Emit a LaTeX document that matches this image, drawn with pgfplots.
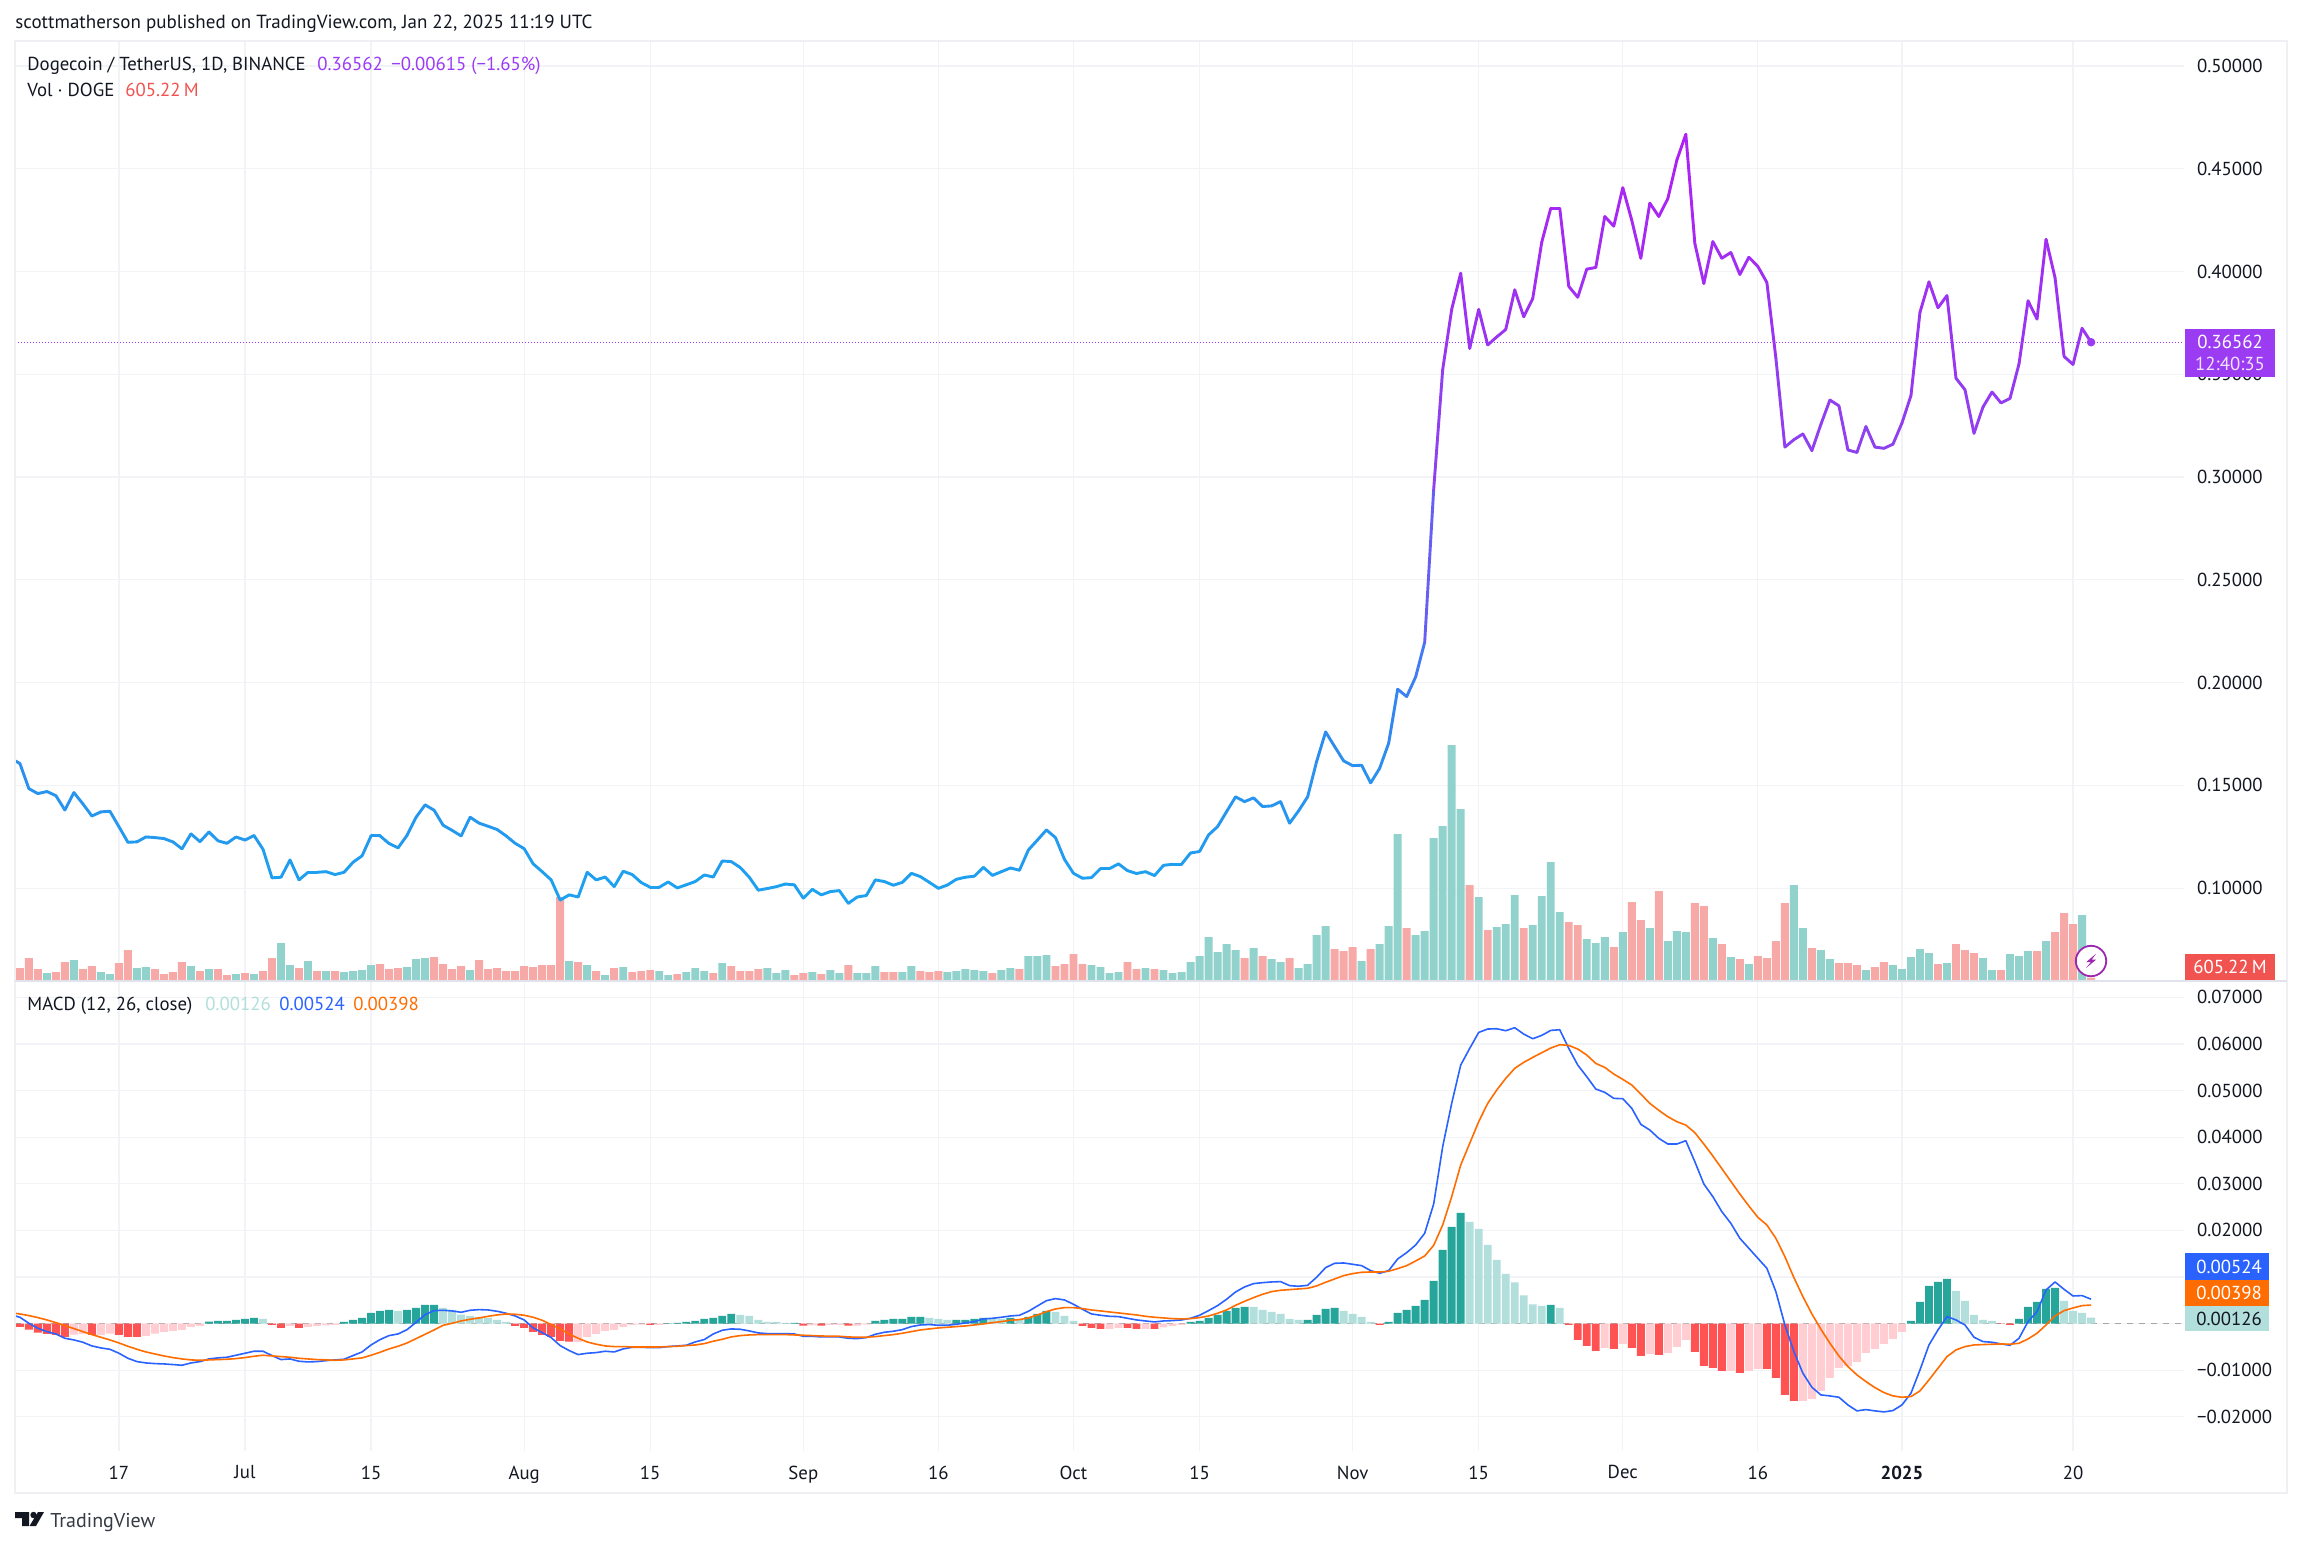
\documentclass[border=0pt]{standalone}
\usepackage{fontspec}
\setmainfont{PT Sans}
\usepackage{pgfplots}
\usepackage{pgfplotstable}
\pgfplotsset{compat=1.18}
\definecolor{gridc}{HTML}{F2F3F6}
\definecolor{framec}{HTML}{E0E3EB}
\definecolor{ink}{HTML}{131722}
\definecolor{purp}{HTML}{9C3AF5}
\definecolor{volg}{HTML}{92D2CC}
\definecolor{volr}{HTML}{F7A9A7}
\definecolor{hd}{HTML}{26A69A}
\definecolor{hl}{HTML}{B2DFDB}
\definecolor{hr}{HTML}{FF5252}
\definecolor{hp}{HTML}{FFCDD2}
\definecolor{mblue}{HTML}{2962FF}
\definecolor{morange}{HTML}{FF6D00}
\definecolor{tagred}{HTML}{F05350}
\definecolor{tagp}{HTML}{9B3BF2}
\definecolor{ring}{HTML}{9C27B0}
% t = days since 17 Jun 2024; p = close; v = volume (bar height, 1 unit = about 263 M);
% vc: 1 up, 0 down; h, m, s = MACD histogram, line, signal in thousandths; hc: 1-4 colour class
\pgfplotstableread{
t p v vc h hc m s
-12 .1630 0 1 0 1 1.93 2.36
-11 .1607 12 0 -.72 3 1.36 2.07
-10 .1484 22 0 -1.29 3 .07 1.72
-9 .1460 11 0 -1.93 3 -1.00 1.29
-8 .1470 7 1 -2.22 3 -1.72 .79
-7 .1450 8 0 -2.43 3 -2.22 .21
-6 .1380 18 0 -2.86 3 -3.15 -.43
-5 .1465 20 1 -2.36 4 -3.50 -1.07
-4 .1410 11 0 -2.22 4 -4.00 -1.72
-3 .1351 14 0 -2.43 3 -4.79 -2.36
-2 .1371 8 1 -2.43 4 -5.22 -2.93
-1 .1374 6 1 -2.15 4 -5.51 -3.50
0 .1299 17 0 -2.43 3 -6.36 -4.15
1 .1223 30 0 -2.86 3 -7.44 -4.86
2 .1225 12 1 -2.86 3 -8.15 -5.51
3 .1249 13 1 -2.65 4 -8.44 -6.08
4 .1246 11 0 -2.15 4 -8.58 -6.51
5 .1241 6 0 -1.79 4 -8.65 -6.94
6 .1225 8 0 -1.57 4 -8.79 -7.29
7 .1191 18 0 -1.36 4 -8.94 -7.58
8 .1264 14 1 -.72 4 -8.44 -7.79
9 .1226 9 0 -.50 4 -8.15 -7.87
10 .1273 11 1 .43 1 -7.58 -7.79
11 .1230 11 0 .57 1 -7.36 -7.72
12 .1218 5 0 .57 1 -7.22 -7.65
13 .1249 6 1 .79 1 -6.79 -7.51
14 .1234 7 0 1.00 1 -6.36 -7.29
15 .1256 6 1 1.22 1 -5.93 -7.01
16 .1189 9 0 1.00 2 -5.93 -6.79
17 .1050 22 0 -.29 3 -6.86 -6.94
18 .1053 37 1 -.93 3 -7.72 -7.08
19 .1137 15 1 -.50 4 -7.58 -7.22
20 .1040 12 0 -.93 3 -8.08 -7.44
21 .1077 19 1 -.72 4 -8.22 -7.58
22 .1077 9 0 -.50 4 -8.15 -7.72
23 .1080 9 1 -.36 4 -7.94 -7.79
24 .1066 9 0 -.29 4 -7.79 -7.87
25 .1077 8 1 .36 1 -7.65 -7.79
26 .1126 9 1 .79 1 -6.86 -7.58
27 .1157 10 1 1.22 1 -6.08 -7.36
28 .1254 15 1 2.29 1 -4.58 -6.79
29 .1254 16 0 2.72 1 -3.43 -6.15
30 .1217 11 0 2.93 1 -2.57 -5.43
31 .1196 12 0 2.72 2 -2.22 -4.86
32 .1257 13 1 2.93 1 -1.29 -4.15
33 .1345 21 1 3.36 1 .29 -3.22
34 .1405 22 1 4.00 1 1.93 -2.29
35 .1379 23 0 4.00 1 2.79 -1.36
36 .1306 16 0 3.36 2 2.86 -.36
37 .1281 11 0 2.93 2 2.72 .07
38 .1254 14 0 1.93 2 2.43 .57
39 .1345 10 1 1.64 2 2.86 .93
40 .1316 20 0 1.43 2 3.00 1.22
41 .1301 11 0 1.22 2 2.93 1.57
42 .1285 12 0 .79 2 2.65 1.86
43 .1254 9 0 .36 2 2.22 2.07
44 .1218 9 0 -.50 3 1.64 2.00
45 .1192 14 0 -.93 3 .79 1.79
46 .1118 13 0 -1.79 3 -.93 1.36
47 .1080 15 0 -2.43 3 -1.93 .72
48 .1040 15 0 -2.86 3 -3.00 -.21
49 .0942 83 0 -3.72 3 -4.72 -1.14
50 .0967 19 1 -3.86 3 -5.79 -2.22
51 .0957 18 0 -3.93 4 -6.65 -3.15
52 .1077 15 1 -2.86 4 -6.36 -3.93
53 .1040 9 0 -2.22 4 -6.22 -4.43
54 .1054 5 1 -1.57 4 -5.93 -4.79
55 .1007 12 0 -1.36 4 -6.08 -4.93
56 .1082 13 1 -.72 4 -5.43 -4.93
57 .1066 8 0 -.29 4 -5.08 -5.01
58 .1027 9 0 -.21 4 -5.08 -5.01
59 .1004 10 0 -.29 3 -5.15 -5.01
60 .1004 9 1 -.29 4 -5.15 -5.01
61 .1030 5 1 .07 1 -4.93 -4.93
62 .1001 6 0 .14 1 -4.79 -4.86
63 .1016 8 1 .36 1 -4.65 -4.72
64 .1032 12 1 .57 1 -3.93 -4.58
65 .1064 9 1 1.00 1 -3.43 -4.29
66 .1054 7 0 1.22 1 -2.22 -3.79
67 .1132 17 1 1.64 1 -1.43 -3.36
68 .1129 14 0 2.07 1 -1.14 -2.86
69 .1100 9 0 1.86 2 -1.22 -2.57
70 .1053 9 0 1.64 2 -1.57 -2.43
71 .0990 11 0 .79 2 -2.00 -2.36
72 .0998 12 1 .36 2 -2.15 -2.36
73 .1007 7 1 .36 2 -2.15 -2.36
74 .1020 10 1 .14 2 -2.15 -2.36
75 .1016 5 0 .14 1 -2.22 -2.43
76 .0951 7 0 -.43 3 -2.72 -2.50
77 .0994 8 1 -.36 4 -2.72 -2.57
78 .0967 6 0 -.43 3 -2.86 -2.65
79 .0983 10 1 -.29 4 -2.86 -2.72
80 .0988 7 1 -.29 4 -2.86 -2.72
81 .0926 15 0 -.43 3 -3.15 -2.86
82 .0957 7 1 -.43 4 -3.22 -2.93
83 .0964 7 1 -.21 4 -3.00 -2.93
84 .1040 14 1 .57 1 -2.29 -2.79
85 .1032 8 0 .79 1 -1.86 -2.57
86 .1014 8 0 1.00 1 -1.64 -2.36
87 .1028 8 1 1.00 1 -1.29 -2.07
88 .1072 14 1 1.43 1 -.64 -1.72
89 .1056 9 0 1.43 1 -.29 -1.36
90 .1028 8 0 1.22 2 -.21 -1.14
91 .0999 9 0 1.00 2 -.36 -.93
92 .1015 8 1 .79 2 -.36 -.79
93 .1043 9 1 .79 1 -.14 -.64
94 .1053 11 1 .79 1 .14 -.50
95 .1058 10 1 1.00 1 .43 -.29
96 .1101 9 1 1.22 1 1.00 -.07
97 .1062 7 0 1.00 2 1.14 .21
98 .1080 10 1 1.00 2 1.36 .43
99 .1098 12 1 1.22 1 1.64 .72
100 .1087 11 0 1.00 2 1.79 .86
101 .1186 24 1 1.43 1 2.65 1.22
102 .1234 24 1 2.07 1 3.79 1.86
103 .1283 25 1 2.72 1 4.93 2.57
104 .1246 14 0 2.50 2 5.36 3.15
105 .1140 16 0 1.64 2 5.08 3.43
106 .1072 26 0 .57 2 4.15 3.43
107 .1048 16 0 -.50 3 3.07 3.22
108 .1051 15 1 -.93 3 2.07 2.93
109 .1095 13 1 -1.14 3 1.79 2.72
110 .1095 7 1 -1.14 4 1.57 2.50
111 .1118 8 1 -.93 4 1.50 2.29
112 .1085 18 0 -.93 3 1.14 2.07
113 .1071 11 0 -1.14 3 .79 1.86
114 .1080 12 1 -1.14 4 .57 1.57
115 .1061 11 0 -1.14 3 .36 1.36
116 .1111 10 1 -.79 4 .57 1.22
117 .1116 7 1 -.50 4 .64 1.07
118 .1116 8 1 -.29 4 .79 1.00
119 .1171 18 1 .36 1 1.14 1.07
120 .1178 24 1 .57 1 1.79 1.29
121 .1259 43 1 1.22 1 2.79 1.64
122 .1299 28 1 1.86 1 3.86 2.22
123 .1372 36 1 2.72 1 5.22 2.93
124 .1444 30 1 3.36 1 6.79 3.93
125 .1421 22 0 3.58 1 7.87 4.79
126 .1439 32 1 3.58 2 8.58 5.58
127 .1397 24 0 2.93 2 8.79 6.29
128 .1400 21 1 2.50 2 8.94 6.86
129 .1421 18 1 2.07 2 9.01 7.15
130 .1316 22 0 1.00 2 8.15 7.29
131 .1376 12 1 .79 2 8.01 7.44
132 .1444 16 1 .79 1 8.22 7.58
133 .1616 45 1 1.86 1 9.94 8.08
134 .1760 54 1 3.15 1 12.01 8.87
135 .1689 31 0 3.36 1 12.94 9.58
136 .1619 29 0 2.72 2 13.01 10.30
137 .1596 33 0 2.07 2 12.73 10.73
138 .1598 19 1 1.43 2 12.44 11.01
139 .1512 31 0 .36 2 11.37 11.08
140 .1583 36 1 -.29 3 10.80 11.08
141 .1705 54 1 .36 1 11.37 11.23
142 .1968 146 1 2.29 1 13.87 11.80
143 .1932 52 0 2.93 1 15.23 12.44
144 .2028 45 1 3.79 1 16.87 13.44
145 .2196 49 1 5.08 1 19.38 14.51
146 .2940 142 1 9.15 1 25.67 16.80
147 .3523 154 1 15.80 1 37.97 21.16
148 .3816 235 1 20.74 1 47.26 27.24
149 .3992 171 1 23.74 1 55.48 34.03
150 .3626 95 0 21.81 2 59.06 38.68
151 .3816 83 1 20.31 2 62.49 43.33
152 .3643 50 0 16.87 2 63.21 47.26
153 .3682 53 1 13.66 2 63.28 50.12
154 .3718 56 1 10.65 2 62.85 52.62
155 .3911 85 1 8.87 2 63.49 54.77
156 .3780 52 0 6.08 2 62.13 56.06
157 .3869 55 1 4.15 2 61.13 57.13
158 .4143 84 1 3.79 2 61.85 58.13
159 .4308 118 1 4.00 1 62.92 59.13
160 .4308 68 1 3.36 2 63.06 59.85
161 .3928 58 0 -.29 3 59.06 59.70
162 .3875 55 0 -3.50 3 55.48 58.92
163 .4012 41 1 -4.79 3 52.98 57.63
164 .4020 37 1 -5.86 3 50.34 55.84
165 .4268 43 1 -5.22 4 49.62 54.98
166 .4221 33 0 -5.43 3 48.33 53.55
167 .4408 48 1 -4.36 4 48.26 52.41
168 .4249 78 0 -5.22 3 46.19 51.19
169 .4065 60 0 -6.94 3 42.76 49.26
170 .4333 52 1 -6.51 4 41.54 47.26
171 .4268 89 0 -6.72 3 39.75 45.76
172 .4355 39 1 -6.29 4 38.54 44.40
173 .4542 49 1 -5.01 4 38.54 43.33
174 .4668 48 1 -3.50 4 39.25 42.61
175 .4137 77 0 -6.08 3 34.75 40.97
176 .3942 74 0 -9.08 3 29.96 38.54
177 .4146 42 1 -9.51 3 27.24 35.96
178 .4065 36 0 -10.15 3 24.02 33.25
179 .4093 23 1 -10.15 4 21.52 30.53
180 .3986 21 0 -10.58 3 18.30 27.81
181 .4070 16 1 -10.15 4 16.16 25.24
182 .4025 24 0 -9.72 4 14.01 22.81
183 .3947 22 0 -9.72 3 11.87 21.16
184 .3579 39 0 -11.65 3 6.86 18.30
185 .3146 77 0 -15.30 3 -.29 14.37
186 .3182 95 1 -16.59 3 -6.01 9.87
187 .3210 52 1 -16.59 4 -10.65 5.79
188 .3129 32 0 -16.16 4 -13.66 2.07
189 .3257 30 1 -14.44 4 -15.30 -1.22
190 .3375 21 1 -11.65 4 -15.52 -4.22
191 .3347 17 0 -9.51 4 -15.80 -6.94
192 .3132 17 0 -9.08 4 -17.45 -9.22
193 .3120 15 0 -8.22 4 -18.73 -11.01
194 .3246 10 1 -6.29 4 -18.45 -12.44
195 .3146 13 0 -5.43 4 -18.73 -13.73
196 .3140 18 0 -4.36 4 -18.95 -14.80
197 .3160 15 1 -3.29 4 -18.66 -15.52
198 .3263 11 1 -1.79 4 -17.45 -15.80
199 .3397 23 1 .57 1 -14.94 -15.66
200 .3802 31 1 4.65 1 -9.94 -14.44
201 .3950 27 1 8.08 1 -4.58 -12.08
202 .3824 16 0 8.94 1 -1.36 -9.58
203 .3883 17 1 9.58 1 1.50 -7.08
204 .3481 36 0 7.01 2 .79 -5.65
205 .3425 30 0 4.86 2 -.29 -4.93
206 .3213 27 0 1.86 2 -2.93 -4.58
207 .3341 22 1 .79 2 -3.86 -4.50
208 .3414 10 1 .57 2 -4.00 -4.43
209 .3361 10 0 -.07 3 -4.36 -4.36
210 .3383 26 1 -.29 3 -4.65 -4.43
211 .3551 24 1 1.00 1 -3.15 -4.22
212 .3858 29 1 3.58 1 .43 -3.29
213 .3769 29 0 4.65 1 2.57 -2.07
214 .4157 39 1 7.44 1 7.22 -.29
215 .3970 48 0 7.65 1 8.94 1.64
216 .3587 67 0 4.86 2 7.36 2.79
217 .3548 56 0 2.72 2 5.93 3.36
218 .3724 65 1 2.29 2 6.01 3.86
219 .36562 2.3 0 1.26 2 5.24 3.98
}\data
\def\tf{\fontsize{9.4pt}{11pt}\selectfont}
\def\tn{\fontsize{9.4pt}{11pt}\selectfont}
\newcommand{\txt}[4][ink]{\node[anchor=base west,inner sep=0pt,text=#1,font=\tf] at (#2,#3) {#4};}
\pgfplotsset{
  common/.style={scale only axis, width=1084.5pt, xmin=-11.54, xmax=229.32, clip=true},
  xgridticks/.style={xtick={0,14,28,45,59,76,91,106,120,137,151,167,182,198,217}},
}
\begin{document}
\begin{tikzpicture}[font=\tf]
\begin{scope}[x=0.5pt,y=-0.5pt]
\path[use as bounding box] (0,0) rectangle (2301,1546);
\fill[white] (0,0) rectangle (2301,1546);
\end{scope}
% price pane: grid and tick labels
\begin{axis}[common, xgridticks, at={(7.5pt,-490.5pt)}, anchor=south west, height=470pt,
  ymin=0.0548, ymax=0.5122,
  axis line style={draw=none}, major tick length=0pt,
  xticklabels={}, xmajorgrids, ymajorgrids, grid style={gridc,line width=0.6pt},
  ytick={0.10,0.15,0.20,0.25,0.30,0.35,0.40,0.45,0.50},
  yticklabels={0.10000,0.15000,0.20000,0.25000,0.30000,0.35000,0.40000,0.45000,0.50000},
  yticklabel pos=right, yticklabel style={anchor=west,xshift=3pt,text=ink,font=\tn}]
\addplot[purp,line width=0.5pt,densely dotted] coordinates {(-11.54,0.36562) (229.32,0.36562)};
\end{axis}
% volume
\begin{axis}[common, at={(7.5pt,-490pt)}, anchor=south west, height=469.5pt, ymin=0, ymax=939, hide axis]
\addplot[ybar, bar shift=0pt, bar width=0.88, fill=volg, draw=none] table[x=t,y=v,restrict expr to domain={\thisrow{vc}}{1:1}] {\data};
\addplot[ybar, bar shift=0pt, bar width=0.88, fill=volr, draw=none] table[x=t,y=v,restrict expr to domain={\thisrow{vc}}{0:0}] {\data};
\end{axis}
% price line
\begin{axis}[common, at={(7.5pt,-490.5pt)}, anchor=south west, height=470pt, ymin=0.0548, ymax=0.5122, hide axis,
  colormap={doge}{rgb255(0cm)=(29,161,240); rgb255(8cm)=(48,138,238); rgb255(12cm)=(74,117,245); rgb255(20cm)=(138,69,240); rgb255(37cm)=(178,30,245)},
  point meta min=0.10, point meta max=0.47]
\addplot[mesh, point meta=y, line width=1.45pt, line cap=round, line join=round] table[x=t,y=p] {\data};
\addplot[only marks, color=purp, mark=*, mark size=1.9pt, mark options={fill=purp, draw=purp}] coordinates {(219,0.36562)};
\end{axis}
% MACD pane
\begin{axis}[common, xgridticks, at={(7.5pt,-725.5pt)}, anchor=south west, height=235pt,
  ymin=-27.34, ymax=73.52,
  axis line style={draw=none}, major tick length=0pt,
  xticklabels={17,Jul,15,Aug,15,Sep,16,Oct,15,Nov,15,Dec,16,\textbf{2025},20},
  xticklabel style={text=ink,font=\tn,yshift=-3.8pt},
  xmajorgrids, ymajorgrids, grid style={gridc,line width=0.6pt},
  ytick={-20,-10,0,10,20,30,40,50,60,70},
  yticklabels={−0.02000,−0.01000,0.00000,0.01000,0.02000,0.03000,0.04000,0.05000,0.06000,0.07000},
  yticklabel pos=right, yticklabel style={anchor=west,xshift=3pt,text=ink,font=\tn}]
\addplot[gray!70,line width=0.5pt,dashed] coordinates {(-11.54,0) (229.32,0)};
\addplot[ybar, bar shift=0pt, bar width=0.88, fill=hd, draw=none] table[x=t,y=h,restrict expr to domain={\thisrow{hc}}{1:1}] {\data};
\addplot[ybar, bar shift=0pt, bar width=0.88, fill=hl, draw=none] table[x=t,y=h,restrict expr to domain={\thisrow{hc}}{2:2}] {\data};
\addplot[ybar, bar shift=0pt, bar width=0.88, fill=hr, draw=none] table[x=t,y=h,restrict expr to domain={\thisrow{hc}}{3:3}] {\data};
\addplot[ybar, bar shift=0pt, bar width=0.88, fill=hp, draw=none] table[x=t,y=h,restrict expr to domain={\thisrow{hc}}{4:4}] {\data};
\addplot[mblue,line width=0.8pt,line join=round] table[x=t,y=m] {\data};
\addplot[morange,line width=0.8pt,line join=round] table[x=t,y=s] {\data};
\end{axis}
\begin{scope}[x=0.5pt,y=-0.5pt]
% frame and separators
\draw[gridc!80!framec,line width=1.2pt] (15,41) rectangle (2287,1493);
\draw[framec,line width=0.9pt] (15,981) -- (2287,981);
% header and legends
\node[anchor=base west,inner sep=0pt,text=ink,font=\fontsize{9.5pt}{11pt}\selectfont] at (15,29) {scottmatherson published on TradingView.com, Jan 22, 2025 11:19 UTC};
\txt{27}{70.5}{Dogecoin / TetherUS, 1D, BINANCE}
\txt[purp]{317}{70.5}{0.36562}
\txt[purp]{391}{70.5}{−0.00615 (−1.65\%)}
\txt{27}{96.5}{Vol · DOGE}
\txt[tagred]{125}{96.5}{605.22\,M}
\txt{27}{1010}{MACD (12, 26, close)}
\txt[hl]{205}{1010}{0.00126}
\txt[mblue]{279}{1010}{0.00524}
\txt[morange]{353}{1010}{0.00398}
% tags
\fill[tagp] (2185,328.5) rectangle (2275,377);
\node[text=white,font=\tn,inner sep=0pt] at (2230,342) {0.36562};
\node[text=white!85!tagp,font=\tn,inner sep=0pt] at (2230,364) {12:40:35};
\fill[tagred] (2185,954) rectangle (2275,980);
\node[text=white,font=\tn,inner sep=0pt] at (2230,967) {605.22\,M};
\fill[mblue] (2185,1253) rectangle (2269,1279.5);
\node[text=white,font=\tn,inner sep=0pt] at (2229,1266.5) {0.00524};
\fill[morange] (2185,1279.5) rectangle (2269,1306);
\node[text=white,font=\tn,inner sep=0pt] at (2229,1293) {0.00398};
\fill[hl] (2185,1306) rectangle (2269,1331);
\node[text=ink,font=\tn,inner sep=0pt] at (2229,1318.5) {0.00126};
% bolt badge
\draw[fill=white,draw=ring,line width=0.9pt] (2091,961) circle (7.6pt);
\fill[ring] (2096,953.7) -- (2086.3,962) -- (2091,962) -- (2086,968) -- (2096,959.7) -- (2091.7,959.7) -- cycle;
% logo
\fill[ink] (15,1512) -- (29,1512) -- (29,1526) -- (22,1526) -- (22,1518) -- (15,1518) -- cycle;
\fill[ink] (33.5,1515) circle (1.6pt);
\fill[ink] (38,1512) -- (44,1512) -- (36,1526) -- (29.5,1526) -- cycle;
\node[anchor=base west,inner sep=0pt,text=ink!85,font=\fontsize{10pt}{12pt}\selectfont] at (50,1527) {TradingView};
\end{scope}
\end{tikzpicture}
\end{document}
